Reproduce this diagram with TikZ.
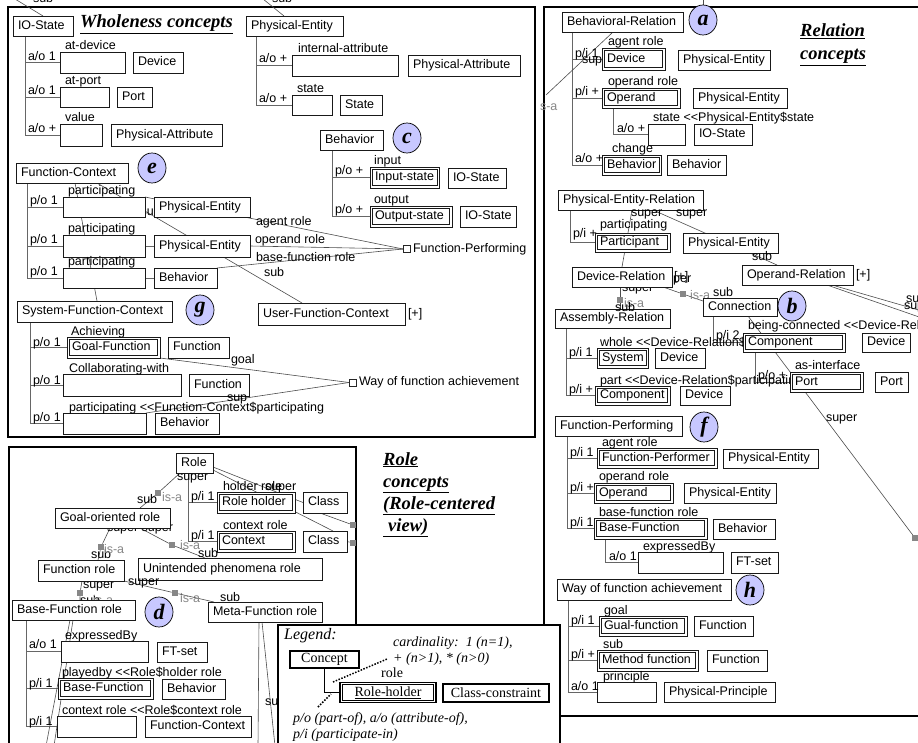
\documentclass[tikz,border=0pt]{standalone}
\usepackage{fontspec}
\setmainfont{Liberation Serif}
\newfontfamily\lsans{Liberation Sans}
\usetikzlibrary{shapes.geometric}
\pgfdeclarelayer{bg}
\pgfsetlayers{bg,main}
\newcommand\lab{\lsans\fontsize{12.5}{14}\selectfont}
\newcommand\ttl{\rmfamily\bfseries\itshape\fontsize{18.5}{21}\selectfont}
\newcommand\clet{\rmfamily\bfseries\itshape\fontsize{22}{24}\selectfont}
\newcommand\lgi{\rmfamily\itshape\fontsize{14}{16}\selectfont}
\newcommand\lgr{\rmfamily\fontsize{14}{16}\selectfont}
\definecolor{lav}{RGB}{200,200,255}
\definecolor{isag}{RGB}{135,135,135}
\newcounter{lbc}
\newlength\bxtw
\newcommand\Bxc[2]{\settowidth\bxtw{#2}\ifdim\bxtw<#1\hbox to #1{#2\hfil}\else#2\fi}
\newcommand\Bx[7][]{%
  \node[bx,#1,anchor=west,minimum height={#6-#4}] (#2) at (#3,{(#4+#6)/2}) {\Bxc{\dimexpr#5pt-#3pt-10pt\relax}{#7}};}
\newcommand\Dx[6]{\Bx[inner xsep=5pt]{#1}{#2}{#3}{#4}{#5}{#6}%
  \draw[bxin] ([shift={(2.2pt,-2.2pt)}]#1.north west) rectangle ([shift={(-2.2pt,2.2pt)}]#1.south east);}
\newcommand\Lb[4][]{\stepcounter{lbc}\node[lb,#1] (lb\arabic{lbc}) at (#2,#3) {#4};}
\newcommand\Tr[3]{\draw[tr] ([xshift=#3pt]#1.south west) |- (#2.west);}
\newcommand\Cir[4]{\node[circ] (#1) at (#2,#3) {#4};}
\newcommand\Sq[3]{\node[isa] (#1) at (#2,#3) {};}
\begin{document}
\begin{tikzpicture}[x=1pt,y=-1pt,
 bx/.style={draw=black!90,line width=0.8pt,fill=white,inner xsep=5pt,inner ysep=0pt,outer sep=0pt,font=\lab,text height=9pt,text depth=2.5pt},
 bxin/.style={draw=black!90,line width=0.65pt},
 tr/.style={draw=black!60,line width=0.75pt},
 cn/.style={draw=black!70,line width=0.6pt},
 lb/.style={anchor=base west,inner sep=0pt,outer sep=0pt,font=\lab},
 gl/.style={text=isag},
 isa/.style={fill=isag,minimum size=6.5pt,inner sep=0pt,outer sep=0pt},
 sqst/.style={draw=black!85,line width=0.6pt,fill=white,minimum size=7pt,inner sep=0pt,outer sep=0pt},
 circ/.style={ellipse,draw=black,line width=0.7pt,fill=lav,minimum width=28pt,minimum height=30pt,inner sep=0pt,font=\clet},
 frm/.style={draw=black,line width=1.3pt},
 ttlst/.style={anchor=base west,inner sep=0pt,font=\ttl},
 lgbx/.style={draw=black,line width=1.2pt,fill=white,inner sep=2pt,font=\lgr},
 lgt/.style={anchor=base west,inner sep=0pt,font=\lgi},
 dots/.style={line width=1.5pt,dash pattern=on 1.5pt off 1.5pt}]
\useasboundingbox (0,0) rectangle (918,743);
\clip (0,0) rectangle (918,743);

% ================= Wholeness concepts =================
\node[ttlst] (wt) at (80,28) {\underline{Wholeness concepts}};
\Bx{ios}{13}{16}{73}{36}{IO-State}
\Bx{ead}{60}{52}{125}{73}{}
\Bx{dev1}{133}{52}{183}{73}{Device}
\Bx{eap}{60}{87}{109}{107}{}
\Bx{port1}{117}{87}{152}{107}{Port}
\Bx{evl}{60}{124}{102}{146}{}
\Bx{pa1}{111}{124}{222}{146}{Physical-Attribute}
\Lb{65}{50}{at-device}\Lb{65}{85}{at-port}\Lb{65}{122}{value}
\Lb{28}{61}{a/o 1}\Lb{28}{95}{a/o 1}\Lb{28}{133}{a/o +}

\Bx{pe0}{246}{16}{343}{36}{Physical-Entity}
\Bx{eia}{292}{55}{398}{76}{}
\Bx{pa2}{408}{55}{520}{76}{Physical-Attribute}
\Bx{esta}{292}{95}{332}{115}{}
\Bx{st}{340}{95}{382}{115}{State}
\Lb{298}{53}{internal-attribute}\Lb{297}{93}{state}
\Lb{259}{63}{a/o +}\Lb{259}{103}{a/o +}

\Bx{beh0}{320}{130}{383}{150}{Behavior}
\Cir{cc}{407}{138}{c}
\Dx{din}{370}{167}{436}{188}{Input-state}
\Bx{ios2}{448}{168}{506}{188}{IO-State}
\Dx{dout}{370}{206}{452}{227}{Output-state}
\Bx{ios3}{460}{206}{515}{227}{IO-State}
\Lb{374}{165}{input}\Lb{374}{204}{output}
\Lb{335}{175}{p/o +}\Lb{335}{214}{p/o +}

\Bx{fc}{16}{163}{128}{183}{Function-Context}
\Cir{ce}{152}{168}{e}
\Bx{ef1}{63}{197}{145}{217}{}
\Bx{pef1}{154}{197}{250}{217}{Physical-Entity}
\Bx{ef2}{63}{235}{145}{257}{}
\Bx{pef2}{154}{235}{250}{257}{Physical-Entity}
\Bx{ef3}{63}{268}{145}{288}{}
\Bx{behf}{154}{268}{217}{288}{Behavior}
\Lb{68}{195}{participating}\Lb{68}{233}{participating}\Lb{68}{266}{participating}
\Lb{30}{205}{p/o 1}\Lb{30}{244}{p/o 1}\Lb{30}{276}{p/o 1}
\node[sqst] (fpsq) at (406.5,249) {};
\node[lb,anchor=west] (fptx) at ([xshift=3pt]fpsq.east) {Function-Performing};
\Lb{256}{226}{agent role}\Lb{255}{244}{operand role}\Lb{256}{262}{base-function role}\Lb{264}{277}{sub}

\Bx{sfc}{17}{301}{172}{322}{System-Function-Context}
\Cir{cg}{200}{310}{g}
\Bx{ufc}{258}{303}{405}{325}{User-Function-Context}
\node[lb,anchor=west] (ufcp) at ([xshift=3pt]ufc.east) {[+]};
\Dx{dgf}{67}{337}{160}{358}{Goal-Function}
\Bx{fn1}{168}{337}{229}{358}{Function}
\Bx{ecw}{63}{374}{181}{396}{}
\Bx{fn2}{189}{374}{249}{396}{Function}
\Bx{ep3}{63}{413}{146}{434}{}
\Bx{behs}{155}{413}{219}{434}{Behavior}
\Lb{71}{335}{Achieving}\Lb{69}{372}{Collaborating-with}
\Lb{69}{411}{participating <{}<Function-Context\$participating}
\Lb{33}{346}{p/o 1}\Lb{33}{384}{p/o 1}\Lb{33}{421}{p/o 1}
\node[sqst] (wfasq) at (352.5,382.5) {};
\node[lb,anchor=west] (wfatx) at ([xshift=3pt]wfasq.east) {Way of function achievement};
\Lb{231}{363}{goal}\Lb{227}{401}{sup}

% ================= Relation concepts =================
\node[ttlst] (rt1) at (800,37) {\underline{Relation}};
\node[ttlst] (rt2) at (800,60) {\underline{concepts}};
\Bx{br}{562}{12}{683}{32}{Behavioral-Relation}
\Cir{ca}{703}{20}{a}
\Dx{ddev}{602}{48}{665}{70}{Device}
\Bx{per1}{678}{50}{767}{70}{Physical-Entity}
\Dx{dop}{602}{88}{680}{108}{Operand}
\Bx{per2}{693}{88}{787}{108}{Physical-Entity}
\Bx{est}{648}{124}{685}{145}{}
\Bx{iosr}{694}{124}{752}{145}{IO-State}
\Dx{dbeh}{602}{155}{658}{175}{Behavior}
\Bx{behr}{667}{155}{717}{175}{Behavior}
\Lb{608}{46}{agent role}\Lb{608}{86}{operand role}
\Lb{653}{122}{state <{}<Physical-Entity\$state}\Lb{612}{153}{change}
\Lb{575}{58}{p/i 1}\Lb{582}{64}{sup}\Lb{575}{96}{p/i +}\Lb{617}{133}{a/o +}\Lb{575}{163}{a/o +}
\Lb[gl]{540}{111}{s-a}

\Bx{per}{558}{190}{703}{210}{Physical-Entity-Relation}
\Dx{dpart}{595}{233}{670}{252}{Participant}
\Bx{per3}{683}{233}{778}{253}{Physical-Entity}
\Bx{dr}{572}{267}{672}{287}{Device-Relation}
\node[lb,anchor=west] (drp) at ([xshift=2pt]dr.east) {[+]};
\Bx{orl}{742}{265}{853}{285}{Operand-Relation}
\node[lb,anchor=west] (orp) at ([xshift=3pt]orl.east) {[+]};
\Bx{conn}{703}{298}{777}{316}{Connection}
\Cir{cb}{792}{306}{b}
\Bx{ar}{555}{309}{670}{328}{Assembly-Relation}
\Dx{dsys}{597}{348}{645}{368}{System}
\Bx{devr1}{655}{348}{705}{368}{Device}
\Dx{dcomp}{743}{333}{845}{352}{Component}
\Bx{devr3}{862}{333}{907}{352}{Device}
\Dx{dport}{790}{372}{863}{392}{Port}
\Bx{portr}{875}{372}{907}{392}{Port}
\Dx{dcomp2}{595}{386}{670}{405}{Component}
\Bx{devr2}{680}{386}{730}{405}{Device}
\Lb{600}{229}{participating}\Lb{573}{238}{p/i +}
\Lb{631}{217}{super}\Lb{676}{217}{super}\Lb{752}{261}{sub}
\Lb{748}{329}{being-connected <{}<Device-Relation\$participating}
\Lb{795}{369}{as-interface}
\Lb{569}{356}{p/i 1}\Lb{569}{393}{p/i +}\Lb{716}{339}{p/i 2}\Lb{758}{379}{p/o +}
\Lb{826}{421}{super}\Lb{713}{297}{sub}
\Lb[gl]{624}{308}{is-a}\Lb{615}{312}{sub}
\Lb{906}{302}{super}\Lb{904}{309}{super}

\Bx{fp}{555}{416}{682}{436}{Function-Performing}
\Cir{cf}{704}{427}{f}
\Dx{dfp}{597}{448}{717}{468}{Function-Performer}
\Bx{pe4}{723}{449}{818}{468}{Physical-Entity}
\Dx{dop2}{594}{483}{673}{503}{Operand}
\Bx{pe5}{684}{483}{774}{503}{Physical-Entity}
\Dx{dbf}{594}{518}{707}{539}{Base-Function}
\Bx{behr2}{713}{519}{775}{539}{Behavior}
\Bx{eexp}{638}{552}{723}{573}{}
\Bx{ftset}{731}{552}{778}{573}{FT-set}
\Lb{602}{446}{agent role}\Lb{599}{480}{operand role}\Lb{599}{516}{base-function role}\Lb{643}{550}{expressedBy}
\Lb{570}{456}{p/i 1}\Lb{570}{491}{p/i +}\Lb{570}{526}{p/i 1}\Lb{609}{560}{a/o 1}

\Bx{wfa}{557}{579}{731}{600}{Way of function achievement}
\Cir{ch}{750}{590}{h}
\Dx{dgual}{599}{616}{687}{636}{Gual-function}
\Bx{fnr1}{694}{616}{753}{636}{Function}
\Dx{dmeth}{597}{650}{698}{671}{Method function}
\Bx{fnr2}{707}{650}{767}{671}{Function}
\Bx{eprin}{597}{682}{656}{702}{}
\Bx{pp}{664}{682}{775}{702}{Physical-Principle}
\Lb{604}{614}{goal}\Lb{603}{648}{sub}\Lb{603}{680}{principle}
\Lb{571}{624}{p/i 1}\Lb{571}{658}{p/i +}\Lb{571}{690}{a/o 1}

% ================= Role concepts =================
\node[ttlst] (rl1) at (383,465) {\underline{Role}};
\node[ttlst] (rl2) at (383,487) {\underline{concepts}};
\node[ttlst] (rl3) at (383,509) {\underline{(Role-centered}};
\node[ttlst] (rl4) at (383,531) {\underline{\hbox{\hspace{5pt}view)}}};
\Bx{role}{176}{453}{213}{473}{Role}
\Dx{drh}{217}{492}{295}{513}{Role holder}
\Dx{dctx}{217}{531}{295}{552}{Context}
\Bx{cls1}{303}{492}{347}{513}{Class}
\Bx{cls2}{303}{531}{347}{552}{Class}
\Bx{gor}{55}{508}{170}{528}{Goal-oriented role}
\Bx{fr}{38}{560}{124}{581}{Function role}
\Bx{upr}{138}{558}{322}{580}{Unintended phenomena role}
\Bx{bfr}{12}{600}{135}{620}{Base-Function role}
\Cir{cd}{159}{612}{d}
\Bx{mfr}{208}{602}{320}{622}{Meta-Function role}
\Bx{eexp2}{61}{641}{148}{662}{}
\Bx{ftset2}{157}{642}{207}{662}{FT-set}
\Dx{dbf2}{58}{678}{153}{699}{Base-Function}
\Bx{behrole}{162}{679}{225}{699}{Behavior}
\Bx{ectx}{57}{716}{136}{737}{}
\Bx{fc2}{145}{716}{251}{737}{Function-Context}
\Lb{223}{490}{holder role}\Lb{223}{529}{context role}
\Lb{191}{500}{p/i 1}\Lb{191}{539}{p/i 1}
\Lb{65}{639}{expressedBy}\Lb{62}{676}{playedby <{}<Role\$holder role}
\Lb{62}{714}{context role <{}<Role\$context role}
\Lb{29}{648}{a/o 1}\Lb{29}{687}{p/i 1}\Lb{29}{725}{p/i 1}
\Lb{137}{503}{sub}\Lb[gl]{162}{501}{is-a}
\Lb{91}{558}{sub}\Lb[gl]{104}{553}{is-a}
\Lb[gl]{180}{549}{is-a}\Lb{198}{557}{sub}
\Lb{128}{585}{super}
\Lb[gl]{180}{602}{is-a}\Lb{220}{601}{sub}
\Lb{265}{490}{super}

% grey is-a squares
\Sq{sqdr}{620}{300}\Sq{sqdc}{683}{294}\Sq{sqfar}{915}{538}
\Sq{sqa}{158}{493}\Sq{sqb}{101}{547}\Sq{sqc}{172}{545}
\Sq{sqd}{80}{593}\Sq{sqe}{175}{593}\Sq{sq1}{353}{525}\Sq{sq2}{353}{543}

% ================= background: frames, connectors, hidden labels =================
\begin{pgfonlayer}{bg}
\draw[frm] (8,7) rectangle (535,437);
\draw[frm] (544,625) -- (544,7) -- (925,7);
\draw[frm] (560,716) -- (925,716);
\draw[frm] (9,750) -- (9,447) -- (356,447) -- (356,750);
% top remnants
\coordinate (t1) at (15,-1); \coordinate (t2) at (263,-1); \coordinate (t3) at (703,-1);
\draw[cn] ([xshift=30pt]ios.north west) -- (t1);
\draw[cn] ([xshift=38pt]pe0.north west) -- (t2);
\draw[cn] (ca.north) -- (t3);
\Lb{33}{3}{sub}\Lb{272}{3}{sub}
% trees
\Tr{ios}{ead}{12}\Tr{ios}{eap}{12}\Tr{ios}{evl}{12}
\Tr{pe0}{eia}{10}\Tr{pe0}{esta}{10}
\Tr{beh0}{din}{12}\Tr{beh0}{dout}{12}
\Tr{fc}{ef1}{11}\Tr{fc}{ef2}{11}\Tr{fc}{ef3}{11}
\Tr{sfc}{dgf}{13}\Tr{sfc}{ecw}{13}\Tr{sfc}{ep3}{13}
\Tr{br}{ddev}{10}\Tr{br}{dop}{10}\Tr{br}{dbeh}{10}
\Tr{dop}{est}{11}
\Tr{per}{dpart}{12}
\Tr{ar}{dsys}{11}\Tr{ar}{dcomp2}{11}
\Tr{conn}{dcomp}{10}
\Tr{dcomp}{dport}{12}
\Tr{fp}{dfp}{12}\Tr{fp}{dop2}{12}\Tr{fp}{dbf}{12}
\Tr{dbf}{eexp}{11}
\Tr{wfa}{dgual}{11}\Tr{wfa}{dmeth}{11}\Tr{wfa}{eprin}{11}
\Tr{role}{drh}{12}\Tr{role}{dctx}{12}
\Tr{bfr}{eexp2}{14}\Tr{bfr}{dbf2}{14}\Tr{bfr}{ectx}{14}
\draw[tr] (ef2.east) -- (pef2.west);
\draw[tr] (ef3.east) -- (behf.west);
% function-context connectors
\draw[cn] ([xshift=59pt]fc.south west) -- ([xshift=80pt]sfc.north west);
\draw[cn] ([xshift=81pt]fc.south west) -- ([xshift=44pt]ufc.north west);
\Lb{140.5}{216}{sub}
\draw[cn] (ef1.north east) -- (fpsq.west);
\draw[cn] (pef2.east) -- (fpsq.west);
\draw[cn] (behf.north east) -- (fpsq.west);
\draw[cn] (dgf.south east) -- (wfasq.west);
\draw[cn] (wfasq.west) -- (ep3.north east);
% relation connectors
\coordinate (bl) at (546,95);
\draw[cn] ([xshift=51pt]br.south west) -- (bl);
\draw[cn] ([xshift=74pt]per.south west) -- ([xshift=50pt]dr.north west);
\draw[cn] ([xshift=95pt]per.south west) -- ([xshift=35pt]orl.north west);
\coordinate (o1) at (922,318); \coordinate (o2) at (922,311);
\draw[cn] ([xshift=85pt]orl.south west) -- (o1);
\draw[cn] ([xshift=90pt]orl.south west) -- (o2);
\draw[cn] ([xshift=48pt]dr.south west) -- (sqdr) -- ([xshift=65pt]ar.north west);
\draw[cn] ([xshift=91pt]dr.south west) -- (sqdc) -- ([yshift=-3pt]conn.north west);
\draw[cn] ([xshift=45pt]conn.south west) -- (sqfar);
\Lb{622}{291}{super}\Lb{660}{283}{super}\Lb[gl]{690}{299}{is-a}
\Lb{600}{346}{whole <{}<Device-Relation\$participating}
\Lb{600}{384}{part <{}<Device-Relation\$participating}
% role connectors
\draw[cn] ([yshift=3pt]role.south east) -- ([xshift=30pt]cls2.north west);
\draw[cn] ([yshift=6pt]role.south east) -- (cls1.west);
\draw[cn] ([xshift=17pt]cls1.south west) -- (sq1);
\draw[cn] (cls2.east) -- (sq2);
\draw[cn] ([xshift=4pt]role.south west) -- (sqa) -- ([xshift=85pt]gor.north west);
\draw[cn] ([xshift=55pt]gor.south west) -- (sqb) -- ([xshift=60pt]fr.north west);
\draw[cn] ([xshift=85pt]gor.south west) -- (sqc) -- ([xshift=67pt]upr.north west);
\draw[cn] ([xshift=44pt]fr.south west) -- (sqd) -- ([xshift=68pt]bfr.north west);
\draw[cn] (fr.south east) -- (sqe) -- ([xshift=6pt]mfr.north west);
\coordinate (b1) at (46,746); \coordinate (b2) at (54,746);
\draw[cn] ([xshift=58pt]bfr.south west) -- (b1);
\draw[cn] ([xshift=61pt]bfr.south west) -- (b2);
\coordinate (m1) at (258,746); \coordinate (m2) at (275,746);
\draw[cn] ([xshift=51pt]mfr.south west) -- (m1);
\draw[cn] ([xshift=54pt]mfr.south west) -- (m2);
\Lb{177}{480}{super}\Lb{107}{531}{super super}\Lb{83}{588}{super}
\Lb{80}{604}{sub}\Lb[gl]{93}{604}{is-a}
\Lb{265}{705}{sup}
\end{pgfonlayer}

% ================= Legend =================
\draw[frm,fill=white] (278,760) -- (278,625) -- (560,625) -- (560,760);
\node[lgt,font=\rmfamily\itshape\fontsize{16}{18}\selectfont] (lgtt) at (284,639) {Legend:};
\node[lgt] (lgc1) at (393,646) {cardinality:\ \ 1 (n=1),};
\node[lgt] (lgc2) at (393,662) {+ (n>1), * (n>0)};
\node[lgbx,minimum width=69pt,minimum height=17pt] (concept) at (324.5,659.5) {Concept};
\node[lgbx,minimum width=96pt,minimum height=20pt] (rhold) at (388,692.5) {\underline{Role-holder}};
\draw[line width=1.1pt] ([shift={(2.8pt,-2.8pt)}]rhold.north west) rectangle ([shift={(-2.8pt,2.8pt)}]rhold.south east);
\node[lgbx,minimum width=106pt,minimum height=18pt] (ccon) at (496,693) {Class-constraint};
\node[anchor=base west,inner sep=0pt,font=\lgr] (lgrole) at (381,677) {role};
\draw[line width=1pt] ([xshift=35pt]concept.south west) |- (rhold.west);
\coordinate (dd1) at (333,682); \coordinate (dd2) at (318,707); \coordinate (dd3) at (331,694);
\draw[dots] (dd1) -- ([xshift=-5pt]lgc2.west);
\draw[dots] (dd2) -- (dd3);
\node[lgt] (lgp1) at (293,722) {p/o (part-of), a/o (attribute-of),};
\node[lgt] (lgp2) at (293,738) {p/i (participate-in)};
\end{tikzpicture}
\end{document}
